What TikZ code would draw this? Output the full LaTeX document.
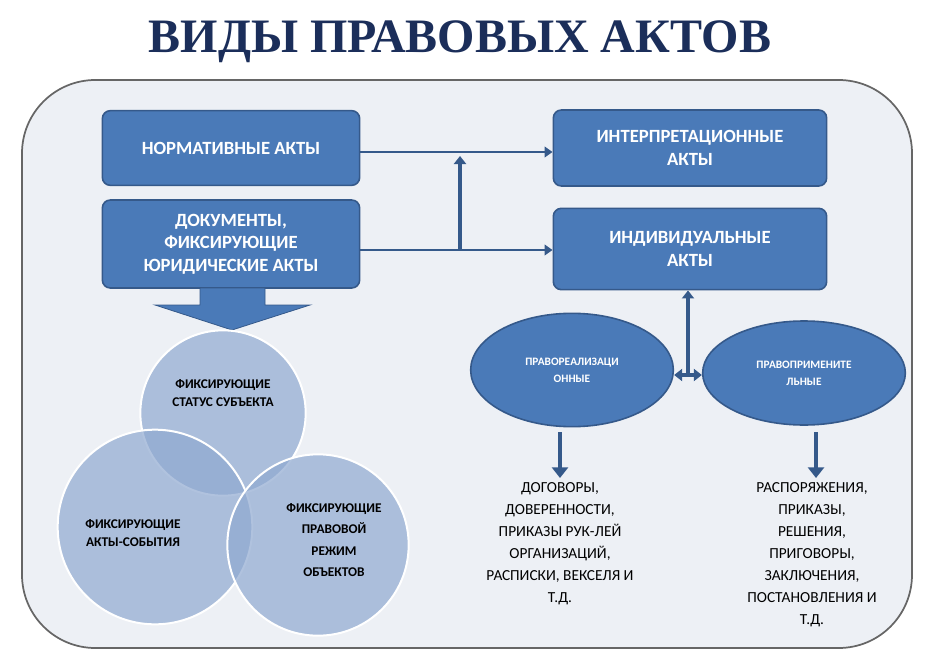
\documentclass[tikz,border=0pt]{standalone}
\usepackage{fontspec}
\setmainfont{Carlito}
\newfontfamily\titlefont{Liberation Serif}
\usetikzlibrary{shapes.geometric,arrows.meta}
\definecolor{boxblue}{HTML}{4A7AB8}
\definecolor{boxedge}{HTML}{35598A}
\definecolor{navy}{HTML}{1B2E5A}
\definecolor{bg}{HTML}{EDF0F5}
\definecolor{circ}{HTML}{8FA9D0}
\begin{document}
\begin{tikzpicture}[x=0.75pt,y=-0.75pt,
  bx/.style={draw=boxedge,line width=1.2pt,fill=boxblue,rounded corners=6pt,text=white,font=\bfseries\fontsize{14}{17}\selectfont,align=center},
  el/.style={ellipse,draw=boxedge,line width=1.2pt,fill=boxblue,text=white,font=\bfseries\fontsize{8.5}{13}\selectfont,align=center},
  cc/.style={circle,fill=circ,fill opacity=0.7,draw=white,line width=1.5pt,text opacity=1,text=black,font=\bfseries\fontsize{10}{13}\selectfont,align=center},
  lst/.style={font=\fontsize{11.5}{16.5}\selectfont,align=center,anchor=north},
  con/.style={draw=boxedge,line width=2.2pt,-{Triangle[length=6pt,width=8pt]}},
  dcon/.style={draw=boxedge,line width=2.6pt,{Triangle[length=6pt,width=9pt]}-{Triangle[length=6pt,width=9pt]}},
  fat/.style={draw=boxedge,fill=boxblue,line width=0.6pt}]
\useasboundingbox (0,0) rectangle (927,663);
\fill[white] (0,0) rectangle (927,663);
\node[font=\titlefont\bfseries\fontsize{36}{40}\selectfont,text=navy] (title) at (460,42) {ВИДЫ ПРАВОВЫХ АКТОВ};
\draw[draw=gray!80!black,line width=1.3pt,fill=bg,rounded corners=55pt] (22,80) rectangle (912,648);

\node[bx,minimum width=193pt,minimum height=56pt] (norm) at (231,148) {НОРМАТИВНЫЕ АКТЫ};
\node[bx,minimum width=193pt,minimum height=66pt] (docs) at (231,244) {ДОКУМЕНТЫ,\\ФИКСИРУЮЩИЕ\\ЮРИДИЧЕСКИЕ АКТЫ};
\node[bx,minimum width=205pt,minimum height=57pt] (interp) at (690,148) {ИНТЕРПРЕТАЦИОННЫЕ\\АКТЫ};
\node[bx,minimum width=205pt,minimum height=61pt] (indiv) at (690,249) {ИНДИВИДУАЛЬНЫЕ\\АКТЫ};

\coordinate (j1) at (460,152);
\coordinate (j2) at (460,250);
\draw[con] (norm.east |- j1) -- (interp.west |- j1);
\draw[con] (docs.east |- j2) -- (indiv.west |- j2);
\draw[draw=boxedge,line width=2.4pt,-{Triangle[length=6pt,width=9pt]}] (j2) -- ([yshift=-3pt]j1);

% big down arrow
\draw[fat] (200,288) -- (265,288) -- (265,305) -- (310,305) -- (232,330) -- (155,305) -- (200,305) -- cycle;

\node[cc,minimum size=124pt] (c1) at (223,413) {};
\node[cc,minimum size=146pt] (c2) at (155,527) {};
\node[cc,minimum size=136pt] (c3) at (318,545) {};
\node[font=\bfseries\fontsize{10}{13}\selectfont,align=center] (t1) at (223,393) {ФИКСИРУЮЩИЕ\\СТАТУС СУБЪЕКТА};
\node[font=\bfseries\fontsize{10}{13}\selectfont,align=center] (t2) at (133,533) {ФИКСИРУЮЩИЕ\\АКТЫ-СОБЫТИЯ};
\node[font=\bfseries\fontsize{10}{16}\selectfont,align=center] (t3) at (334,540) {ФИКСИРУЮЩИЕ\\ПРАВОВОЙ\\РЕЖИМ\\ОБЪЕКТОВ};

\node[el,minimum width=152pt,minimum height=85pt] (e1) at (572,370) {ПРАВОРЕАЛИЗАЦИ\\ОННЫЕ};
\node[el,minimum width=152pt,minimum height=78pt] (e2) at (804,373) {ПРАВОПРИМЕНИТЕ\\ЛЬНЫЕ};

\coordinate (k) at (688,375);
\draw[draw=boxedge,line width=2.6pt,-{Triangle[length=6pt,width=9pt]}] (k) -- (indiv.south -| k);
\draw[dcon] (e1.east |- k) -- (e2.west |- k);

\node[lst] (l1) at (560,478) {ДОГОВОРЫ,\\ДОВЕРЕННОСТИ,\\ПРИКАЗЫ РУК-ЛЕЙ\\ОРГАНИЗАЦИЙ,\\РАСПИСКИ, ВЕКСЕЛЯ И\\Т.Д.};
\node[lst] (l2) at (812,478) {РАСПОРЯЖЕНИЯ,\\ПРИКАЗЫ,\\РЕШЕНИЯ,\\ПРИГОВОРЫ,\\ЗАКЛЮЧЕНИЯ,\\ПОСТАНОВЛЕНИЯ И\\Т.Д.};
\coordinate (a1) at (560,432);
\coordinate (a2) at (816,432);
\draw[draw=boxedge,line width=3pt,-{Triangle[length=8pt,width=12pt]}] (a1) -- (l1.north -| a1);
\draw[draw=boxedge,line width=3pt,-{Triangle[length=8pt,width=12pt]}] (a2) -- (l2.north -| a2);
\end{tikzpicture}
\end{document}
